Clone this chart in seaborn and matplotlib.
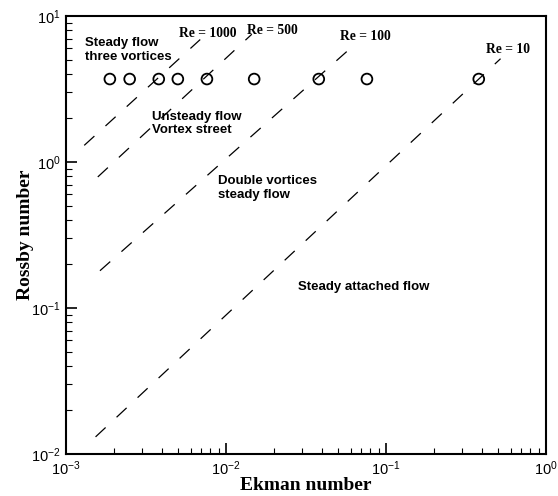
import matplotlib.pyplot as plt
import numpy as np
import pandas as pd
import seaborn as sns

# Data
ekman = [0.00188, 0.0025, 0.0038, 0.005, 0.0076, 0.015, 0.038, 0.076, 0.38]
rossby = [3.7, 3.7, 3.7, 3.7, 3.7, 3.7, 3.7, 3.7, 3.7]

# Re = const lines (start / end points)
re_labels = ["Re = 1000", "Re = 500", "Re = 100", "Re = 10"]
re_ek = [[0.0013, 0.0069], [0.00158, 0.0145], [0.00163, 0.066], [0.00153, 0.52]]
re_ro = [[1.3, 6.9], [0.79, 7.5], [0.18, 6.6], [0.0131, 5.1]]

sns.set_style("ticks")
plt.rcParams["font.family"] = ["Liberation Sans", "DejaVu Sans"]
plt.rcParams["mathtext.default"] = "regular"
plt.rcParams["text.color"] = "black"
plt.rcParams["axes.labelcolor"] = "black"

fig = plt.figure(figsize=(5.58, 4.96), dpi=100)
ax = fig.add_axes([66 / 558, 1 - 454 / 496, 480 / 558, 438 / 496])

pts = pd.DataFrame({"ek": ekman, "ro": rossby})
sns.scatterplot(data=pts, x="ek", y="ro", ax=ax, marker="o", s=60,
                facecolor="none", edgecolor="black", linewidth=1.3, zorder=3)

for lab, xs, ys in zip(re_labels, re_ek, re_ro):
    sns.lineplot(x=xs, y=ys, ax=ax, color="black", linewidth=0.9,
                 linestyle=(0, (11, 12)), sort=False, estimator=None)

ax.set_xscale("log")
ax.set_yscale("log")
ax.set_xlim(1e-3, 1)
ax.set_ylim(1e-2, 10)

# Re labels
serif = ["Liberation Serif", "DejaVu Serif"]
re_pos = [(0.235, 0.952), (0.377, 0.959), (0.571, 0.945), (0.875, 0.916)]
for lab, (fx, fy) in zip(re_labels, re_pos):
    ax.text(fx, fy, lab, transform=ax.transAxes, family=serif, color="black",
            fontweight="bold", fontsize=9.8, va="baseline", ha="left")

# Regime labels
regions = ["Steady flow\nthree vortices", "Unsteady flow\nVortex street",
           "Double vortices\nsteady flow", "Steady attached flow"]
region_pos = [(0.040, 0.951), (0.179, 0.783), (0.317, 0.636), (0.483, 0.395)]
for lab, (fx, fy) in zip(regions, region_pos):
    ax.text(fx, fy, lab, transform=ax.transAxes, fontweight="bold",
            color="black", fontsize=9.5, va="top", ha="left", linespacing=1.15)

ax.set_xlabel("Ekman number", family=serif, fontweight="bold", fontsize=14,
              labelpad=-1, color="black")
ax.set_ylabel("Rossby number", family=serif, fontweight="bold", fontsize=14,
              labelpad=-2, color="black")

for s in ax.spines.values():
    s.set_linewidth(1.5)
    s.set_color("black")

ax.tick_params(which="both", direction="in", top=False, right=False,
               colors="black", labelsize=10.5)
ax.tick_params(which="major", length=8, width=1.2)
ax.tick_params(which="minor", length=4.5, width=0.8)
ax.tick_params(axis="x", which="major", pad=4)
ax.tick_params(axis="y", which="major", pad=4)
ax.minorticks_on()

fig.savefig("out.png", dpi=100)
